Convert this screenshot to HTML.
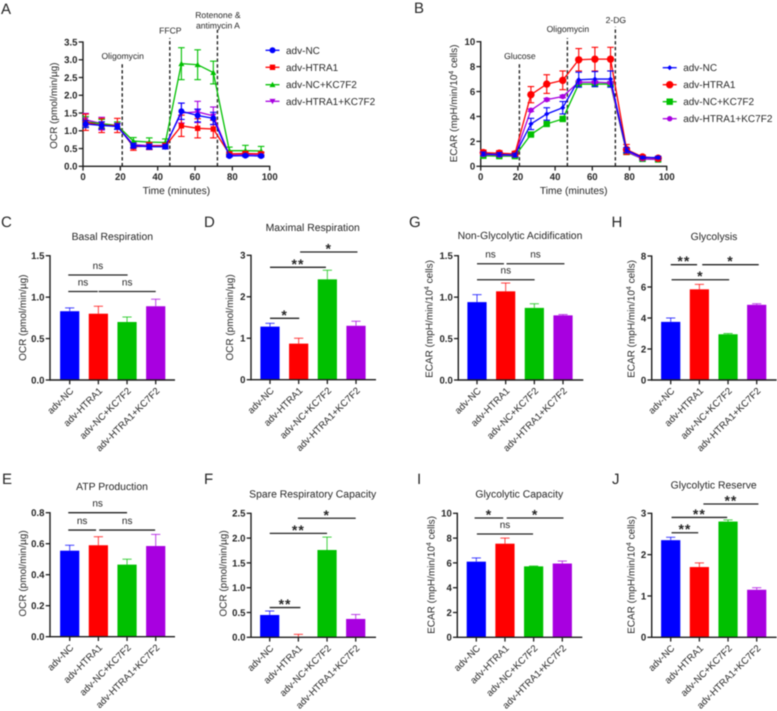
<!DOCTYPE html>
<html lang="en">
<head>
<meta charset="utf-8">
<title>OCR and ECAR panels</title>
<style>
html,body{margin:0;padding:0;background:#fff;}
#figure{display:block;width:777px;height:711px;filter:blur(0.45px);font-family:"Liberation Sans",sans-serif;text-rendering:geometricPrecision;}
text{fill:#262626;}
</style>
</head>
<body>
<svg id="figure" xmlns="http://www.w3.org/2000/svg" width="777" height="711" viewBox="0 0 777 711"></svg>
<script>
const groupLabels = ['adv-NC', 'adv-HTRA1', 'adv-NC+KC7F2', 'adv-HTRA1+KC7F2'];
const groupColors = ['#0000ff', '#ff0000', '#00c000', '#a800e0'];
const timePoints = [1.4, 10, 18.4, 27, 35.5, 44.1, 52.7, 61.4, 69.8, 78.4, 87, 95.4];
const timeTicks = [0, 20, 40, 60, 80, 100];

const ocrNC = [1.19, 1.15, 1.12, 0.58, 0.55, 0.55, 1.55, 1.43, 1.35, 0.29, 0.30, 0.29];
const ocrHTRA1 = [1.24, 1.15, 1.15, 0.55, 0.57, 0.57, 1.14, 1.07, 1.05, 0.35, 0.36, 0.35];
const ocrNCKC = [1.25, 1.20, 1.15, 0.71, 0.68, 0.67, 2.89, 2.86, 2.64, 0.44, 0.44, 0.43];
const ocrHTRA1KC = [1.31, 1.20, 1.13, 0.61, 0.58, 0.59, 1.50, 1.53, 1.42, 0.32, 0.34, 0.33];
const ocrNCErr = [0.10, 0.10, 0.08, 0.07, 0.07, 0.06, 0.23, 0.18, 0.17, 0.03, 0.03, 0.03];
const ocrHTRA1Err = [0.23, 0.20, 0.20, 0.10, 0.10, 0.08, 0.30, 0.27, 0.25, 0.05, 0.05, 0.05];
const ocrNCKCErr = [0.15, 0.12, 0.10, 0.10, 0.12, 0.10, 0.45, 0.42, 0.32, 0.10, 0.15, 0.13];
const ocrHTRA1KCErr = [0.18, 0.18, 0.08, 0.08, 0.08, 0.06, 0.28, 0.30, 0.25, 0.04, 0.04, 0.04];
const ocrTicks = ['0.0', '0.5', '1.0', '1.5', '2.0', '2.5', '3.0', '3.5'];
const ocrInjectionTimes = [21, 46.5, 72];

const ecarNC = [1.00, 0.95, 0.90, 3.40, 4.20, 4.70, 6.95, 7.00, 7.00, 1.30, 0.70, 0.70];
const ecarHTRA1 = [1.10, 1.05, 1.00, 5.75, 6.60, 6.90, 8.55, 8.60, 8.60, 1.35, 0.75, 0.65];
const ecarNCKC = [0.85, 0.82, 0.82, 2.55, 3.40, 3.80, 6.60, 6.60, 6.60, 1.15, 0.60, 0.55];
const ecarHTRA1KC = [0.95, 0.90, 0.88, 4.50, 5.35, 5.60, 6.75, 6.75, 6.70, 1.20, 0.60, 0.55];
const ecarNCErr = [0.15, 0.15, 0.15, 0.45, 0.50, 0.50, 0.60, 0.60, 0.65, 0.20, 0.10, 0.10];
const ecarHTRA1Err = [0.20, 0.20, 0.20, 0.65, 0.75, 0.75, 0.90, 0.95, 0.95, 0.40, 0.15, 0.10];
const ecarNCKCErr = [0.10, 0.10, 0.10, 0.10, 0.10, 0.10, 0.10, 0.10, 0.10, 0.10, 0.10, 0.10];
const ecarHTRA1KCErr = [0.10, 0.10, 0.10, 0.10, 0.10, 0.10, 0.10, 0.10, 0.10, 0.10, 0.10, 0.10];
const ecarTicks = ['0', '2', '4', '6', '8', '10'];
const ecarInjectionTimes = [20.8, 46.6, 72.4];

const basalValues = [0.83, 0.80, 0.70, 0.89];
const basalErrors = [0.04, 0.09, 0.06, 0.085];
const basalTicks = ['0.0', '0.5', '1.0', '1.5'];
const basalSig = [[-0.05, 2.02, 1.267, 'ns'], [-0.05, 0.98, 1.068, 'ns'], [1.01, 3, 1.068, 'ns']];

const maximalValues = [1.28, 0.87, 2.42, 1.30];
const maximalErrors = [0.08, 0.13, 0.22, 0.11];
const maximalTicks = ['0', '1', '2', '3'];
const maximalSig = [[0, 1.02, 1.48, '*'], [0, 1.95, 2.71, '**'], [1.05, 3.05, 3.08, '*']];

const nonGlycoValues = [0.94, 1.07, 0.87, 0.78];
const nonGlycoErrors = [0.09, 0.10, 0.05, 0.01];
const nonGlycoTicks = ['0.0', '0.5', '1.0', '1.5'];
const nonGlycoSig = [[0, 0.94, 1.403, 'ns'], [1.03, 3.05, 1.403, 'ns'], [0, 2.01, 1.21, 'ns']];

const glycolysisValues = [3.75, 5.85, 2.95, 4.85];
const glycolysisErrors = [0.25, 0.32, 0.05, 0.07];
const glycolysisTicks = ['0', '2', '4', '6', '8'];
const glycolysisSig = [[0, 0.92, 7.44, '**'], [1.1, 3.07, 7.44, '*'], [0.03, 2.04, 6.47, '*']];

const atpValues = [0.555, 0.59, 0.465, 0.585];
const atpErrors = [0.035, 0.055, 0.035, 0.075];
const atpTicks = ['0.0', '0.2', '0.4', '0.6', '0.8'];
const atpSig = [[-0.05, 2, 0.8, 'ns'], [-0.05, 0.92, 0.688, 'ns'], [1.03, 2.98, 0.688, 'ns']];

const spareValues = [0.45, 0, 1.76, 0.37];
const spareErrors = [0.08, 0.06, 0.26, 0.09];
const spareTicks = ['0.0', '0.5', '1.0', '1.5', '2.0', '2.5'];
const spareSig = [[0, 1.07, 0.6, '**'], [0, 2, 2.096, '**'], [0.98, 3, 2.4, '*']];

const capacityValues = [6.1, 7.55, 5.72, 5.95];
const capacityErrors = [0.30, 0.45, 0.03, 0.20];
const capacityTicks = ['0', '2', '4', '6', '8', '10'];
const capacitySig = [[-0.06, 0.94, 9.62, '*'], [1.06, 3.04, 9.62, '*'], [0.02, 1.98, 8.33, 'ns']];

const reserveValues = [2.35, 1.70, 2.80, 1.15];
const reserveErrors = [0.07, 0.10, 0.04, 0.05];
const reserveTicks = ['0', '1', '2', '3'];
const reserveSig = [[0.03, 0.96, 2.53, '**'], [0.03, 1.97, 2.9, '**'], [1.14, 3.06, 3.225, '**']];

const NS = 'http://www.w3.org/2000/svg';
const root = document.getElementById('figure');

function el(tag, attrs, parent) {
  const node = document.createElementNS(NS, tag);
  for (const k in attrs) node.setAttribute(k, attrs[k]);
  (parent || root).appendChild(node);
  return node;
}
function line(parent, x1, y1, x2, y2, stroke, w, dash) {
  const a = {x1: x1, y1: y1, x2: x2, y2: y2, stroke: stroke, 'stroke-width': w};
  if (dash) a['stroke-dasharray'] = dash;
  return el('line', a, parent);
}
function label(parent, x, y, str, size, anchor, weight) {
  const t = el('text', {x: x, y: y, 'font-size': size, 'text-anchor': anchor || 'middle', 'font-weight': weight || 'normal'}, parent);
  t.textContent = str;
  return t;
}
function rotatedTitle(parent, x, y, size) {
  return el('text', {transform: 'translate(' + x + ',' + y + ') rotate(-90)', 'font-size': size, 'text-anchor': 'middle'}, parent);
}
function fillYTitle(t, str) {
  if (str === 'OCR') {
    t.textContent = 'OCR (pmol/min/\u00b5g)';
    return;
  }
  const a = el('tspan', {}, t);
  a.textContent = 'ECAR (mpH/min/10';
  const b = el('tspan', {dy: -3.5, 'font-size': 7}, t);
  b.textContent = '4';
  const c = el('tspan', {dy: 3.5}, t);
  c.textContent = ' cells)';
}

function panelLetter(str, x, y) {
  const t = label(root, x, y, str, 15, 'start');
  
  
}

function drawYAxis(g, p, ticks, scale) {
  const ax = line(g, p.x, p.y0 + 0.6, p.x, p.yTop - 0.6, '#1c1c1c', 1.4);
  
  
  ticks.forEach(function (tk) {
    const yy = scale(parseFloat(tk));
    const m = line(g, p.x - 4.3, yy, p.x, yy, '#1c1c1c', 1.3);
    
    
    const t = label(g, p.x - 5.5, yy + 3.4, tk, 9.6, 'end', 'bold');
    
    
  });
}

function drawLinePanel(name, p, series, errors, order, markers, ticks, yTitle, injTimes, injText, legendYs) {
  const g = el('g', {});
  
  
  const maxV = parseFloat(ticks[ticks.length - 1]);
  const sy = function (v) { return p.y0 - v / maxV * (p.y0 - p.yTop); };
  const sx = function (t) { return p.x + t / 100 * p.w; };

  injTimes.forEach(function (t, i) {
    const d = line(g, sx(t), p.y0, sx(t), p.injTops[i], '#222', 1.4, '3.4 2.4');
    
    
    injText[i].forEach(function (row) {
      const lb = label(g, sx(t) + 0.5, row[1], row[0], 8.6, 'middle');
      
      
    });
  });

  drawYAxis(g, p, ticks, sy);
  const xa = line(g, p.x - 0.6, p.y0, p.x + p.w + 0.6, p.y0, '#1c1c1c', 1.4);
  
  
  timeTicks.forEach(function (tk) {
    const m = line(g, sx(tk), p.y0, sx(tk), p.y0 + 4.3, '#1c1c1c', 1.3);
    
    
    const t = label(g, sx(tk), p.y0 + 13.6, String(tk), 9.6, 'middle', 'bold');
    
    
  });
  const xt = label(g, p.x + p.w / 2, 194, 'Time (minutes)', 10.2, 'middle');
  
  
  const yt = rotatedTitle(g, p.titleX, p.titleY, 10);
  fillYTitle(yt, yTitle);
  
  

  order.forEach(function (idx) {
    const sg = el('g', {}, g);
    
    
    const c = groupColors[idx];
    series[idx].forEach(function (v, i) {
      const xx = sx(timePoints[i]), e = errors[idx][i];
      const s = line(sg, xx, sy(v - e), xx, sy(v + e), c, 1.1);
      
      
      const c1 = line(sg, xx - 3.3, sy(v + e), xx + 3.3, sy(v + e), c, 1.1);
      
      
      const c2 = line(sg, xx - 3.3, sy(v - e), xx + 3.3, sy(v - e), c, 1.1);
      
      
    });
    const pts = series[idx].map(function (v, i) { return sx(timePoints[i]) + ',' + sy(v); }).join(' ');
    const pl = el('polyline', {points: pts, fill: 'none', stroke: c, 'stroke-width': 1.3}, sg);
    
    
    series[idx].forEach(function (v, i) {
      const mk = drawMarker(sg, markers[idx], sx(timePoints[i]), sy(v), c);
      
      
    });
  });

  groupLabels.forEach(function (name2, i) {
    const lg = el('g', {}, g);
    
    
    const ly = legendYs[i];
    const sw = line(lg, p.legendX, ly, p.legendX + 14, ly, groupColors[i], 1.3);
    
    
    const mk = drawMarker(lg, markers[i], p.legendX + 7, ly, groupColors[i]);
    
    
    const t = label(lg, p.legendX + 20.5, ly + 3.5, name2, 10, 'start');
    
    
  });
}

function drawMarker(parent, m, x, y, c) {
  const r = m.r;
  if (m.type === 'circle') return el('circle', {cx: x, cy: y, r: r, fill: c}, parent);
  if (m.type === 'square') return el('rect', {x: x - r, y: y - r, width: 2 * r, height: 2 * r, fill: c}, parent);
  if (m.type === 'up') return el('polygon', {points: (x - r) + ',' + (y + r * 0.8) + ' ' + (x + r) + ',' + (y + r * 0.8) + ' ' + x + ',' + (y - r), fill: c}, parent);
  if (m.type === 'down') return el('polygon', {points: (x - r) + ',' + (y - r * 0.8) + ' ' + (x + r) + ',' + (y - r * 0.8) + ' ' + x + ',' + (y + r), fill: c}, parent);
  return el('polygon', {points: (x - r) + ',' + y + ' ' + x + ',' + (y - r) + ' ' + (x + r) + ',' + y + ' ' + x + ',' + (y + r), fill: c}, parent);
}

function drawBarPanel(name, p, title, values, errs, ticks, sig, yTitle) {
  const g = el('g', {});
  
  
  const maxV = parseFloat(ticks[ticks.length - 1]);
  const sy = function (v) { return p.y0 - v / maxV * (p.y0 - p.yTop); };
  const sx = function (i) { return p.cx0 + i * 28.67; };

  const tt = label(g, p.titleCx, p.titleBase, title, 10.4, 'middle');
  
  

  values.forEach(function (v, i) {
    const xx = sx(i), c = groupColors[i], topE = sy(v + errs[i]);
    const eb = line(g, xx, sy(v), xx, topE, c, 1, null);
    eb.setAttribute('stroke-opacity', '0.75');
    
    
    const cap = line(g, xx - 4.6, topE, xx + 4.6, topE, c, 1, null);
    cap.setAttribute('stroke-opacity', '0.75');
    
    
    const r = el('rect', {x: xx - 9.6, y: sy(v), width: 19.2, height: p.y0 - sy(v), fill: c}, g);
    
    
  });

  drawYAxis(g, p, ticks, sy);
  const xa = line(g, p.x - 0.6, p.y0, p.x + 125, p.y0, '#1c1c1c', 1.4);
  
  
  groupLabels.forEach(function (lb, i) {
    const m = line(g, sx(i), p.y0, sx(i), p.y0 + 4.3, '#1c1c1c', 1.3);
    
    
    const t = el('text', {transform: 'translate(' + (sx(i) + 4.5) + ',' + (p.y0 + 11.5) + ') rotate(-45)', 'font-size': 9.6, 'text-anchor': 'end'}, g);
    t.textContent = lb;
    
    
  });

  const yt = rotatedTitle(g, p.titleX, p.titleY, 10);
  fillYTitle(yt, yTitle);
  
  

  sig.forEach(function (s) {
    const yy = sy(s[2]), x1 = sx(s[0]), x2 = sx(s[1]), mid = (x1 + x2) / 2;
    const br = line(g, x1, yy, x2, yy, '#222', 1.3);
    
    
    let t;
    if (s[3] === 'ns') {
      t = label(g, mid, yy - 6, s[3], 10, 'middle');
    } else {
      t = label(g, mid, yy + 1.5, s[3], 14, 'middle', 'bold');
      t.setAttribute('letter-spacing', '1');
    }
    
    
  });
}

panelLetter('A', 1, 14);
panelLetter('B', 414, 13);
panelLetter('C', 1, 227);
panelLetter('D', 204, 227);
panelLetter('G', 409, 227);
panelLetter('H', 611.5, 227);
panelLetter('E', 2, 484);
panelLetter('F', 204, 484);
panelLetter('I', 417, 484);
panelLetter('J', 612, 484);

drawLinePanel('ocr-timecourse',
  {x: 83, w: 186.7, y0: 166.3, yTop: 42, injTops: [63, 38, 30], titleX: 57, titleY: 105.7, legendX: 265.5},
  [ocrNC, ocrHTRA1, ocrNCKC, ocrHTRA1KC],
  [ocrNCErr, ocrHTRA1Err, ocrNCKCErr, ocrHTRA1KCErr],
  [3, 2, 1, 0],
  [{type: 'circle', r: 3}, {type: 'square', r: 2.7}, {type: 'up', r: 3}, {type: 'down', r: 3}],
  ocrTicks, 'OCR', ocrInjectionTimes,
  [[['Oligomycin', 59]], [['FFCP', 33.5]], [['Rotenone &', 18], ['antimycin A', 28.5]]],
  [50.3, 67.3, 84.7, 101.3]);

drawLinePanel('ecar-timecourse',
  {x: 480.7, w: 186, y0: 166.3, yTop: 41.7, injTops: [63, 38, 26.7], titleX: 457, titleY: 103.5, legendX: 662.7},
  [ecarNC, ecarHTRA1, ecarNCKC, ecarHTRA1KC],
  [ecarNCErr, ecarHTRA1Err, ecarNCKCErr, ecarHTRA1KCErr],
  [2, 3, 1, 0],
  [{type: 'diamond', r: 2.6}, {type: 'circle', r: 3.7}, {type: 'square', r: 3.2}, {type: 'circle', r: 2.7}],
  ecarTicks, 'ECAR', ecarInjectionTimes,
  [[['Glucose', 59]], [['Oligomycin', 32]], [['2-DG', 23]]],
  [67.7, 84.7, 101.7, 118.7]);

drawBarPanel('basal-respiration', {x: 50, y0: 380, yTop: 255.7, cx0: 69.7, titleCx: 112.3, titleBase: 240, titleX: 26, titleY: 317.7},
  'Basal Respiration', basalValues, basalErrors, basalTicks, basalSig, 'OCR');
drawBarPanel('maximal-respiration', {x: 251, y0: 379.7, yTop: 255.3, cx0: 270, titleCx: 312.7, titleBase: 231, titleX: 233, titleY: 317.5},
  'Maximal Respiration', maximalValues, maximalErrors, maximalTicks, maximalSig, 'OCR');
drawBarPanel('non-glycolytic-acidification', {x: 458.3, y0: 380, yTop: 255.7, cx0: 477, titleCx: 520, titleBase: 239, titleX: 432.7, titleY: 319},
  'Non-Glycolytic Acidification', nonGlycoValues, nonGlycoErrors, nonGlycoTicks, nonGlycoSig, 'ECAR');
drawBarPanel('glycolysis', {x: 651.7, y0: 380, yTop: 256, cx0: 670.7, titleCx: 714, titleBase: 240, titleX: 634.3, titleY: 319},
  'Glycolysis', glycolysisValues, glycolysisErrors, glycolysisTicks, glycolysisSig, 'ECAR');
drawBarPanel('atp-production', {x: 50, y0: 636.7, yTop: 512.7, cx0: 69.7, titleCx: 112, titleBase: 490, titleX: 26, titleY: 573.5},
  'ATP Production', atpValues, atpErrors, atpTicks, atpSig, 'OCR');
drawBarPanel('spare-respiratory-capacity', {x: 251, y0: 637.3, yTop: 513.3, cx0: 269.7, titleCx: 312.7, titleBase: 497.7, titleX: 226.7, titleY: 573.5},
  'Spare Respiratory Capacity', spareValues, spareErrors, spareTicks, spareSig, 'OCR');
drawBarPanel('glycolytic-capacity', {x: 457.3, y0: 637.3, yTop: 513.3, cx0: 476.3, titleCx: 519.3, titleBase: 497.7, titleX: 434.3, titleY: 575},
  'Glycolytic Capacity', capacityValues, capacityErrors, capacityTicks, capacitySig, 'ECAR');
drawBarPanel('glycolytic-reserve', {x: 651.7, y0: 637.3, yTop: 513.3, cx0: 670.7, titleCx: 713.7, titleBase: 488.7, titleX: 634.3, titleY: 575},
  'Glycolytic Reserve', reserveValues, reserveErrors, reserveTicks, reserveSig, 'ECAR');
</script>
</body>
</html>
